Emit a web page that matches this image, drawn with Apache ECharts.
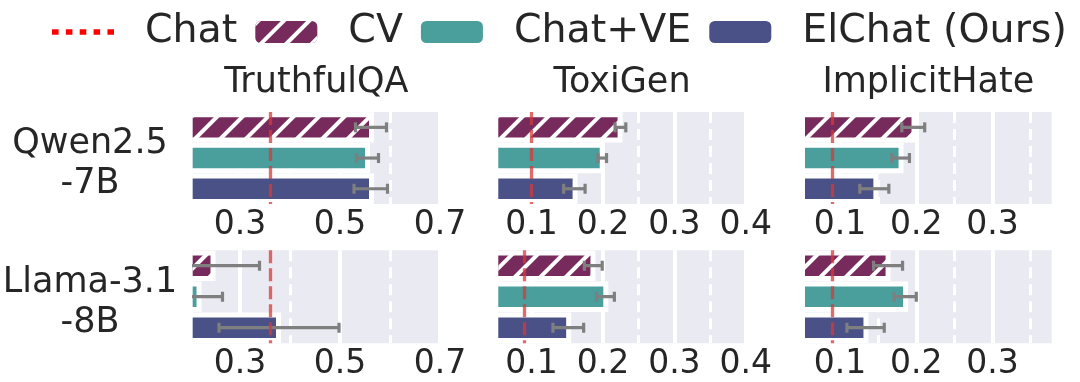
<!DOCTYPE html>
<html lang="en">
<head>
    <meta charset="UTF-8">
    <title>ElChat safety / truthfulness</title>
    <script src="https://cdn.jsdelivr.net/npm/echarts@6/dist/echarts.min.js"></script>
    <style>
        html, body {
            margin: 0;
            padding: 0;
            background: #fff;
        }
        #chart {
            width: 1080px;
            height: 382px;
        }
    </style>
</head>
<body>
<div id="chart"></div>
<script>
    // ---- data ----
    const tasks = ['TruthfulQA', 'ToxiGen', 'ImplicitHate'];
    const models = ['Qwen2.5\n-7B', 'Llama-3.1\n-8B'];
    const methods = ['CV', 'Chat+VE', 'ElChat (Ours)'];

    // [model][task]
    const chatScore = [[0.36, 0.097, 0.093], [0.36, 0.088, 0.089]];

    const cvMean = [[0.563, 0.224, 0.197], [0.246, 0.186, 0.163]];
    const cvLow  = [[0.531, 0.217, 0.181], [0.153, 0.174, 0.144]];
    const cvHigh = [[0.593, 0.232, 0.211], [0.339, 0.199, 0.182]];

    const veMean = [[0.555, 0.199, 0.180], [0.218, 0.204, 0.186]];
    const veLow  = [[0.533, 0.193, 0.168], [0.171, 0.191, 0.171]];
    const veHigh = [[0.577, 0.205, 0.191], [0.265, 0.216, 0.200]];

    const elMean = [[0.563, 0.161, 0.147], [0.377, 0.152, 0.134]];
    const elLow  = [[0.528, 0.145, 0.126], [0.258, 0.130, 0.109]];
    const elHigh = [[0.595, 0.175, 0.164], [0.498, 0.173, 0.158]];

    // axis ranges and ticks per task column
    const xMin = [0.2054, 0.0535, 0.0541];
    const xMax = [0.7, 0.4, 0.3775];
    const majorTicks = [[0.3, 0.5, 0.7], [0.1, 0.2, 0.3, 0.4], [0.1, 0.2, 0.3]];
    const minorTicks = [[0.4, 0.6], [0.15, 0.25, 0.35], [0.15, 0.25, 0.35]];

    // ---- layout / style ----
    const FONT = '"DejaVu Sans", sans-serif';
    const TEXT = '#262626';
    const colors = ['#772A5C', '#4A9E9C', '#4A5186'];
    const gridLeft = [192.7, 498.3, 805];
    const gridWidth = [247.3, 247.5, 246.7];
    const rowTop = [112, 250.2];
    const rowHeight = [92.1, 93];
    const BAR_H = 25.4;   // full bar thickness
    const EDGE = 5;       // white bar edge, centred on the bar outline

    const means = [cvMean, veMean, elMean];
    const lows = [cvLow, veLow, elLow];
    const highs = [cvHigh, veHigh, elHigh];

    const hatch = {
        symbol: 'rect',
        symbolSize: 1,
        color: '#ffffff',
        backgroundColor: null,
        dashArrayX: [1, 0],
        dashArrayY: [4, 14],
        rotation: -Math.PI / 4
    };

    // error bar: line with caps
    function renderErr(params, api) {
        const cat = api.value(0);
        const p0 = api.coord([api.value(1), cat]);
        const p1 = api.coord([api.value(2), cat]);
        const h = 5;
        const st = { stroke: '#7f7f7f', lineWidth: 3.2 };
        return {
            type: 'group',
            children: [
                { type: 'line', shape: { x1: p0[0], y1: p0[1], x2: p1[0], y2: p1[1] }, style: st },
                { type: 'line', shape: { x1: p0[0], y1: p0[1] - h, x2: p0[0], y2: p0[1] + h }, style: st },
                { type: 'line', shape: { x1: p1[0], y1: p1[1] - h, x2: p1[0], y2: p1[1] + h }, style: st }
            ]
        };
    }

    // white outline of each bar (half inside, half outside, like the original edge)
    function renderEdge(params, api) {
        const cat = api.value(0);
        const p0 = api.coord([0, cat]);
        const p1 = api.coord([api.value(1), cat]);
        return {
            type: 'rect',
            shape: { x: p0[0], y: p0[1] - BAR_H / 2, width: p1[0] - p0[0], height: BAR_H },
            style: { fill: 'none', stroke: '#ffffff', lineWidth: EDGE }
        };
    }

    const grids = [], xAxes = [], yAxes = [], series = [], graphics = [];

    for (let r = 0; r < models.length; r++) {
        for (let c = 0; c < tasks.length; c++) {
            const k = grids.length;
            grids.push({
                left: gridLeft[c], width: gridWidth[c],
                top: rowTop[r], height: rowHeight[r],
                show: true, backgroundColor: '#EAEAF2', borderWidth: 0
            });
            xAxes.push({
                type: 'value', gridIndex: k, min: xMin[c], max: xMax[c],
                axisLine: { show: false }, axisTick: { show: false },
                splitLine: { show: false },
                axisLabel: {
                    customValues: majorTicks[c],
                    formatter: v => v.toFixed(1),
                    fontSize: 33, fontFamily: FONT, color: TEXT, margin: 5
                }
            });
            yAxes.push({
                type: 'category', gridIndex: k, data: methods, inverse: true,
                axisLine: { show: false }, axisTick: { show: false },
                axisLabel: { show: false }, splitLine: { show: false }
            });

            // white grid lines (solid major, dashed minor)
            series.push({
                type: 'line', xAxisIndex: k, yAxisIndex: k, data: [], silent: true,
                markLine: {
                    z: 1, silent: true, animation: false,
                    symbol: ['none', 'none'], label: { show: false },
                    data: majorTicks[c].map(v => ({ xAxis: v, lineStyle: { color: '#fff', width: 4, type: 'solid' } }))
                        .concat(minorTicks[c].map(v => ({ xAxis: v, lineStyle: { color: '#fff', width: 3, type: [11, 6] } })))
                }
            });

            // bars, one series per method so the legend picks them up
            methods.forEach((m, i) => {
                series.push({
                    type: 'bar', name: m, xAxisIndex: k, yAxisIndex: k, z: 2,
                    barWidth: BAR_H, barGap: '-100%',
                    data: methods.map((_, j) => (j === i ? means[i][r][c] : '-')),
                    itemStyle: Object.assign({ color: colors[i] }, i === 0 ? { decal: hatch } : {})
                });
            });

            // bar edges
            series.push({
                type: 'custom', xAxisIndex: k, yAxisIndex: k, z: 3, clip: true, silent: true,
                renderItem: renderEdge,
                encode: { x: 1, y: 0 },
                data: methods.map((_, i) => [i, means[i][r][c]])
            });

            // error bars
            series.push({
                type: 'custom', xAxisIndex: k, yAxisIndex: k, z: 4, clip: true, silent: true,
                renderItem: renderErr,
                encode: { x: [1, 2], y: 0 },
                data: methods.map((_, i) => [i, lows[i][r][c], highs[i][r][c]])
            });

            // Chat baseline
            series.push({
                type: 'line', name: 'Chat', xAxisIndex: k, yAxisIndex: k, data: [],
                color: '#ff0000',
                markLine: {
                    z: 6, silent: true, animation: false,
                    symbol: ['none', 'none'], label: { show: false },
                    lineStyle: { color: '#d63a3a', opacity: 0.75, width: 3.3, type: [13, 5] },
                    data: [{ xAxis: chatScore[r][c] }]
                }
            });
        }

        graphics.push({
            type: 'text', x: 90, y: rowTop[r] + rowHeight[r] / 2 + 6,
            style: {
                text: models[r], fontSize: 35, fontFamily: FONT, fill: TEXT,
                align: 'center', verticalAlign: 'middle', lineHeight: 39.5
            }
        });
    }

    tasks.forEach((t, c) => {
        graphics.push({
            type: 'text', x: gridLeft[c] + gridWidth[c] / 2, y: 83,
            style: {
                text: t, fontSize: 35, fontFamily: FONT, fill: TEXT,
                align: 'center', verticalAlign: 'middle'
            }
        });
    });

    const dots = 'path://M0,0h7v6h-7z M14.75,0h7v6h-7z M29.5,0h7v6h-7z M44.25,0h7v6h-7z M59,0h7v6h-7z';

    const chart = echarts.init(document.getElementById('chart'), null, { renderer: 'canvas' });
    chart.setOption({
        animation: false,
        backgroundColor: '#fff',
        textStyle: { fontFamily: FONT },
        legend: {
            left: 52, top: 12, padding: 0,
            itemWidth: 62, itemHeight: 22, itemGap: 18,
            selectedMode: false,
            itemStyle: { borderWidth: 0 },
            textStyle: { fontSize: 39.5, fontFamily: FONT, color: TEXT, padding: [0, 0, 0, 26] },
            data: [
                { name: 'Chat', icon: dots, itemStyle: { color: '#ff0000' } },
                { name: 'CV' },
                { name: 'Chat+VE' },
                { name: 'ElChat (Ours)' }
            ]
        },
        grid: grids,
        xAxis: xAxes,
        yAxis: yAxes,
        series: series,
        graphic: graphics
    });
</script>
</body>
</html>
